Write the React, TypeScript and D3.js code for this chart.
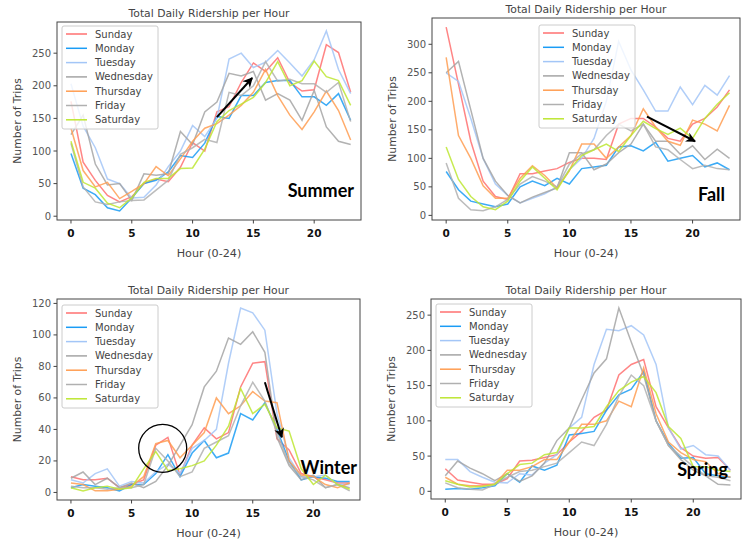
import React from "react";
import * as d3 from "d3";

const days = ["Sunday", "Monday", "Tuesday", "Wednesday", "Thursday", "Friday", "Saturday"];
const dayColors = ["#ff7070", "#1a9cf5", "#a3c6f7", "#a5a5a5", "#ff9d52", "#b0b0b0", "#bde632"];
const hours = d3.range(0, 24);
const xTicks = [0, 5, 10, 15, 20];

const summerSunday = [176, 83, 55, 32, 22, 30, 50, 57, 53, 75, 113, 100, 160, 168, 205, 235, 222, 243, 205, 192, 194, 263, 251, 190];
const summerMonday = [96, 43, 33, 13, 8, 28, 50, 55, 68, 93, 90, 112, 153, 150, 185, 185, 205, 208, 208, 183, 183, 170, 188, 147];
const summerTuesday = [203, 138, 105, 57, 50, 28, 29, 48, 76, 100, 139, 122, 150, 241, 250, 228, 236, 254, 235, 215, 240, 284, 225, 188];
const summerWednesday = [125, 155, 80, 48, 50, 24, 65, 63, 65, 130, 110, 160, 175, 219, 215, 222, 178, 188, 178, 147, 193, 137, 115, 110];
const summerThursday = [135, 70, 45, 52, 27, 38, 50, 76, 62, 88, 115, 135, 142, 155, 170, 190, 225, 185, 155, 133, 160, 192, 162, 117];
const summerFriday = [112, 45, 22, 18, 22, 24, 25, 40, 55, 95, 105, 118, 113, 190, 185, 200, 237, 207, 210, 203, 203, 190, 205, 145];
const summerSaturday = [115, 52, 43, 20, 13, 28, 52, 58, 58, 73, 74, 103, 145, 162, 172, 182, 205, 237, 200, 208, 238, 214, 208, 170];

const fallSunday = [330, 230, 130, 60, 33, 28, 73, 73, 78, 82, 93, 100, 100, 98, 160, 170, 170, 155, 135, 130, 160, 170, 190, 220];
const fallMonday = [77, 45, 25, 20, 15, 20, 50, 60, 52, 65, 55, 82, 85, 88, 120, 122, 113, 128, 95, 100, 105, 85, 92, 80];
const fallTuesday = [250, 235, 170, 100, 55, 35, 22, 30, 38, 50, 80, 100, 135, 200, 305, 255, 220, 183, 183, 225, 194, 228, 211, 245];
const fallWednesday = [250, 270, 185, 100, 60, 35, 22, 32, 40, 48, 110, 110, 80, 90, 110, 125, 160, 130, 130, 107, 122, 98, 116, 100];
const fallThursday = [277, 140, 100, 52, 30, 30, 65, 87, 70, 48, 78, 125, 125, 100, 120, 140, 187, 155, 130, 123, 167, 160, 148, 193];
const fallFriday = [92, 30, 10, 8, 15, 28, 55, 68, 60, 50, 90, 108, 115, 140, 160, 148, 160, 120, 115, 98, 82, 88, 82, 80];
const fallSaturday = [120, 63, 33, 15, 10, 25, 60, 85, 65, 45, 80, 105, 115, 125, 112, 140, 165, 152, 142, 153, 135, 170, 195, 215];

const winterSunday = [10, 8, 8, 9, 3, 5, 8, 30, 35, 11, 30, 41, 34, 38, 67, 82, 83, 34, 27, 12, 10, 8, 6, 6];
const winterMonday = [3, 5, 4, 3, 1, 5, 5, 12, 24, 10, 25, 33, 22, 25, 50, 46, 57, 40, 20, 8, 10, 9, 7, 7];
const winterTuesday = [8, 6, 12, 15, 4, 7, 6, 13, 18, 12, 28, 33, 40, 82, 117, 114, 103, 50, 22, 10, 10, 11, 5, 5];
const winterWednesday = [9, 13, 5, 9, 3, 6, 3, 7, 17, 30, 43, 67, 77, 98, 94, 102, 89, 35, 17, 8, 11, 3, 5, 3];
const winterThursday = [6, 5, 1, 1, 2, 4, 10, 31, 33, 22, 30, 38, 60, 50, 55, 64, 58, 57, 20, 11, 10, 5, 3, 6];
const winterFriday = [4, 3, 3, 2, 3, 3, 5, 28, 20, 10, 13, 28, 32, 36, 55, 70, 58, 38, 18, 10, 8, 3, 5, 1];
const winterSaturday = [3, 1, 3, 4, 2, 3, 15, 26, 14, 15, 17, 20, 30, 42, 66, 50, 56, 41, 39, 15, 5, 11, 5, 2];

const springSunday = [32, 16, 13, 10, 10, 18, 43, 44, 48, 52, 70, 85, 105, 115, 165, 180, 187, 120, 90, 62, 50, 47, 48, 30];
const springMonday = [3, 4, 3, 5, 8, 25, 13, 36, 30, 37, 80, 82, 85, 115, 137, 145, 170, 100, 68, 47, 48, 25, 22, 20];
const springTuesday = [45, 45, 28, 20, 13, 12, 25, 23, 40, 52, 90, 105, 180, 230, 228, 235, 222, 180, 90, 60, 65, 52, 50, 30];
const springWednesday = [22, 43, 33, 25, 15, 25, 14, 22, 40, 72, 90, 130, 168, 188, 260, 212, 165, 100, 65, 45, 30, 22, 10, 9];
const springThursday = [20, 10, 8, 8, 10, 30, 30, 35, 45, 45, 70, 95, 95, 100, 128, 120, 175, 110, 70, 55, 45, 42, 25, 20];
const springFriday = [12, 5, 3, 2, 10, 20, 28, 30, 35, 40, 55, 70, 65, 95, 135, 165, 150, 100, 65, 50, 35, 22, 20, 15];
const springSaturday = [15, 10, 6, 7, 10, 25, 38, 40, 52, 55, 90, 90, 92, 120, 143, 155, 163, 140, 92, 75, 35, 35, 30, 28];

const summerYTicks = [0, 50, 100, 150, 200, 250];
const fallYTicks = [0, 50, 100, 150, 200, 250, 300];
const winterYTicks = [0, 20, 40, 60, 80, 100, 120];
const springYTicks = [0, 50, 100, 150, 200, 250];

// annotations in data coordinates
const summerArrow = [[12.0, 152], [14.9, 212]];
const fallArrow = [[16.3, 173], [20.2, 130]];
const winterArrow = [[16.0, 70], [17.4, 35]];
const winterCircle = [7.57, 28, 24];

type Box = { x0: number; x1: number; y0: number; y1: number };

type PanelProps = {
  id: string;
  box: Box;
  series: number[][];
  yTicks: number[];
  season: string;
  seasonPos: [number, number];
  legendPos: [number, number];
  arrow?: number[][];
  circle?: number[];
};

function Panel({ id, box, series, yTicks, season, seasonPos, legendPos, arrow, circle }: PanelProps) {
  const all = series.flat();
  const mn = d3.min(all)!;
  const mx = d3.max(all)!;
  const pad = (mx - mn) * 0.05;
  const x = d3.scaleLinear().domain([-1.15, 23.85]).range([box.x0, box.x1]);
  const y = d3.scaleLinear().domain([mn - pad, mx + pad]).range([box.y1, box.y0]);
  const line = d3
    .line<number>()
    .x((_, i) => x(hours[i]))
    .y((d) => y(d));
  const cx = (box.x0 + box.x1) / 2;
  const [lx, ly] = legendPos;
  const rowH = 14.3;
  return (
    <g>
      <defs>
        <clipPath id={"clip" + id}>
          <rect x={box.x0} y={box.y0} width={box.x1 - box.x0} height={box.y1 - box.y0} />
        </clipPath>
        <marker id={"arr" + id} viewBox="0 0 10 10" refX="9" refY="5" markerWidth="5" markerHeight="5" orient="auto">
          <path d="M0,0 L10,5 L0,10 L3,5 z" fill="#000" />
        </marker>
      </defs>
      <rect x={box.x0} y={box.y0} width={box.x1 - box.x0} height={box.y1 - box.y0} fill="#fff" />
      <g clipPath={`url(#clip${id})`}>
        {series.map((s, i) => (
          <path key={i} d={line(s)!} fill="none" stroke={dayColors[i]} strokeWidth={1.5} strokeOpacity={0.85} />
        ))}
      </g>
      <rect x={box.x0} y={box.y0} width={box.x1 - box.x0} height={box.y1 - box.y0} fill="none" stroke="#444" strokeWidth={1} />
      {yTicks.map((t) => (
        <g key={t}>
          <line x1={box.x0 - 3.5} x2={box.x0} y1={y(t)} y2={y(t)} stroke="#444" />
          <text x={box.x0 - 6} y={y(t)} dy="0.35em" textAnchor="end" fontSize={10} fill="#555" fontFamily="DejaVu Sans">
            {t}
          </text>
        </g>
      ))}
      {xTicks.map((t) => (
        <g key={t}>
          <line x1={x(t)} x2={x(t)} y1={box.y1} y2={box.y1 + 3.5} stroke="#444" />
          <text x={x(t)} y={box.y1 + 13} dy="0.35em" textAnchor="middle" fontSize={10.5} fontWeight="bold" fill="#111" fontFamily="DejaVu Sans">
            {t}
          </text>
        </g>
      ))}
      <text x={cx} y={box.y0 - 5} textAnchor="middle" fontSize={10.8} fill="#444" fontFamily="DejaVu Sans">
        Total Daily Ridership per Hour
      </text>
      <text x={cx} y={box.y1 + 33} dy="0.35em" textAnchor="middle" fontSize={11.2} fill="#444" fontFamily="DejaVu Sans">
        Hour (0-24)
      </text>
      <text
        transform={`translate(${box.x0 - 40},${(box.y0 + box.y1) / 2}) rotate(-90)`}
        textAnchor="middle"
        dy="0.35em"
        fontSize={10.8}
        fill="#444"
        fontFamily="DejaVu Sans"
      >
        Number of Trips
      </text>
      <rect x={lx} y={ly} width={96} height={103} rx={2} fill="#fff" fillOpacity={0.8} stroke="#ccc" />
      {days.map((d, i) => (
        <g key={d}>
          <line x1={lx + 4} x2={lx + 25} y1={ly + 8 + i * rowH} y2={ly + 8 + i * rowH} stroke={dayColors[i]} strokeWidth={1.5} />
          <text x={lx + 33} y={ly + 8 + i * rowH} dy="0.35em" fontSize={10} fill="#444" fontFamily="DejaVu Sans">
            {d}
          </text>
        </g>
      ))}
      {arrow && (
        <line
          x1={x(arrow[0][0])}
          y1={y(arrow[0][1])}
          x2={x(arrow[1][0])}
          y2={y(arrow[1][1])}
          stroke="#000"
          strokeWidth={2}
          markerEnd={`url(#arr${id})`}
        />
      )}
      {circle && <circle cx={x(circle[0])} cy={y(circle[1])} r={circle[2]} fill="none" stroke="#000" strokeWidth={1.3} />}
      <text x={seasonPos[0]} y={seasonPos[1]} dy="0.35em" textAnchor="end" fontSize={18} fontWeight="bold" fill="#000" fontFamily="Lato">
        {season}
      </text>
    </g>
  );
}

export default function App() {
  return (
    <svg width={743} height={544} style={{ position: "absolute", left: 0, top: 0, background: "#fff" }} fontFamily="DejaVu Sans">
      <rect width={743} height={544} fill="#fff" />
      <Panel
        id="su"
        box={{ x0: 57, x1: 361, y0: 22, y1: 220 }}
        series={[summerSunday, summerMonday, summerTuesday, summerWednesday, summerThursday, summerFriday, summerSaturday]}
        yTicks={summerYTicks}
        season="Summer"
        seasonPos={[354, 191]}
        legendPos={[62, 26]}
        arrow={summerArrow}
      />
      <Panel
        id="fa"
        box={{ x0: 432, x1: 740, y0: 18, y1: 220 }}
        series={[fallSunday, fallMonday, fallTuesday, fallWednesday, fallThursday, fallFriday, fallSaturday]}
        yTicks={fallYTicks}
        season="Fall"
        seasonPos={[725, 195]}
        legendPos={[539, 25]}
        arrow={fallArrow}
      />
      <Panel
        id="wi"
        box={{ x0: 57, x1: 360, y0: 299, y1: 500 }}
        series={[winterSunday, winterMonday, winterTuesday, winterWednesday, winterThursday, winterFriday, winterSaturday]}
        yTicks={winterYTicks}
        season="Winter"
        seasonPos={[357, 468]}
        legendPos={[62, 305]}
        arrow={winterArrow}
        circle={winterCircle}
      />
      <Panel
        id="sp"
        box={{ x0: 431, x1: 741, y0: 299, y1: 499 }}
        series={[springSunday, springMonday, springTuesday, springWednesday, springThursday, springFriday, springSaturday]}
        yTicks={springYTicks}
        season="Spring"
        seasonPos={[728, 470]}
        legendPos={[436, 304]}
      />
    </svg>
  );
}
